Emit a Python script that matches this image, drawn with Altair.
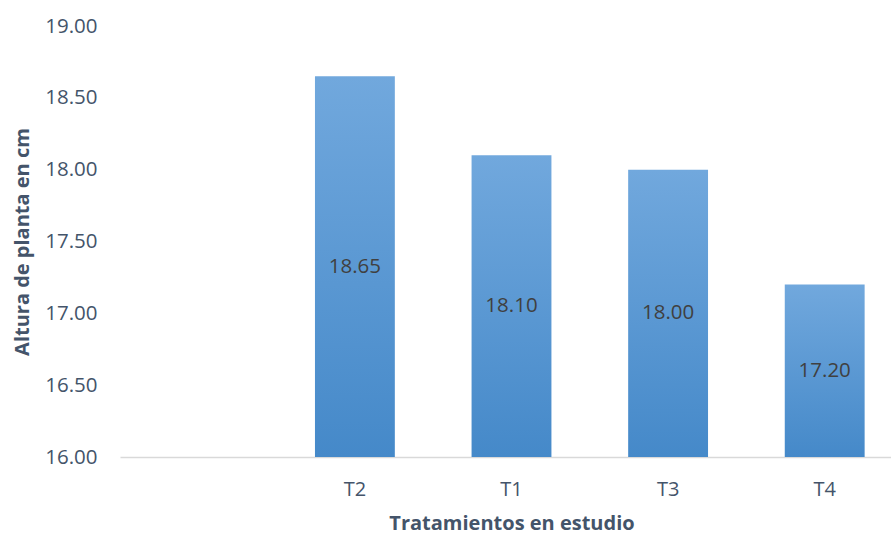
import altair as alt
import pandas as pd

# Treatments (first slot of the axis is left empty) and mean plant height in cm
slots = [" ", "T2", "T1", "T3", "T4"]
treatments = ["T2", "T1", "T3", "T4"]
heights = [18.65, 18.10, 18.00, 17.20]

df = pd.DataFrame({"tratamiento": treatments, "altura": heights})

BASE = 16.0
TEXT = "#44546a"
FONT = "Open Sans"

x_scale = alt.Scale(domain=slots, range=[0, 783], paddingInner=0.49)
y_scale = alt.Scale(domain=[16, 19], zero=False, nice=False)

x_enc = alt.X(
    "tratamiento:N",
    sort=slots,
    scale=x_scale,
    axis=alt.Axis(
        title="Tratamientos en estudio",
        labelAngle=0,
        ticks=False,
        domainColor="#d9d9d9",
        domainWidth=1.5,
        labelPadding=22,
        labelFontSize=20,
        labelColor=TEXT,
        labelFont=FONT,
        titleFont=FONT,
        titleFontSize=20,
        titleFontWeight="bold",
        titleColor=TEXT,
        titlePadding=14,
        grid=False,
    ),
)

bars = alt.Chart(df).mark_bar(
    color=alt.Gradient(
        gradient="linear",
        x1=0, y1=0, x2=0, y2=1,
        stops=[
            alt.GradientStop(color="#71a8dd", offset=0),
            alt.GradientStop(color="#4589c9", offset=1),
        ],
    )
).encode(
    x=x_enc,
    y=alt.Y(
        "altura:Q",
        scale=y_scale,
        axis=alt.Axis(
            title="Altura de planta en cm",
            values=[16.0, 16.5, 17.0, 17.5, 18.0, 18.5, 19.0],
            format=".2f",
            ticks=False,
            domain=False,
            grid=False,
            labelPadding=23,
            labelFontSize=20.5,
            labelColor=TEXT,
            labelFont=FONT,
            titleFont=FONT,
            titleFontSize=20,
            titleFontWeight="bold",
            titleColor=TEXT,
            titlePadding=12,
        ),
    ),
    y2=alt.datum(BASE),
)

labels = alt.Chart(df).transform_calculate(
    mid=f"(datum.altura + {BASE}) / 2"
).mark_text(
    fontSize=20.5, font=FONT, color="#404040", align="center", baseline="middle"
).encode(
    x=alt.X("tratamiento:N", sort=slots, scale=x_scale),
    y=alt.Y("mid:Q", scale=y_scale),
    text=alt.Text("altura:Q", format=".2f"),
)

chart = alt.layer(bars, labels).properties(
    width=771,
    height=431,
    autosize=alt.AutoSizeParams(type="none"),
    padding={"left": 120, "top": 26, "right": 0, "bottom": 77},
    background="white",
).configure_view(stroke=None)

chart.save("out.html", embed_options={"renderer": "svg", "actions": False})
